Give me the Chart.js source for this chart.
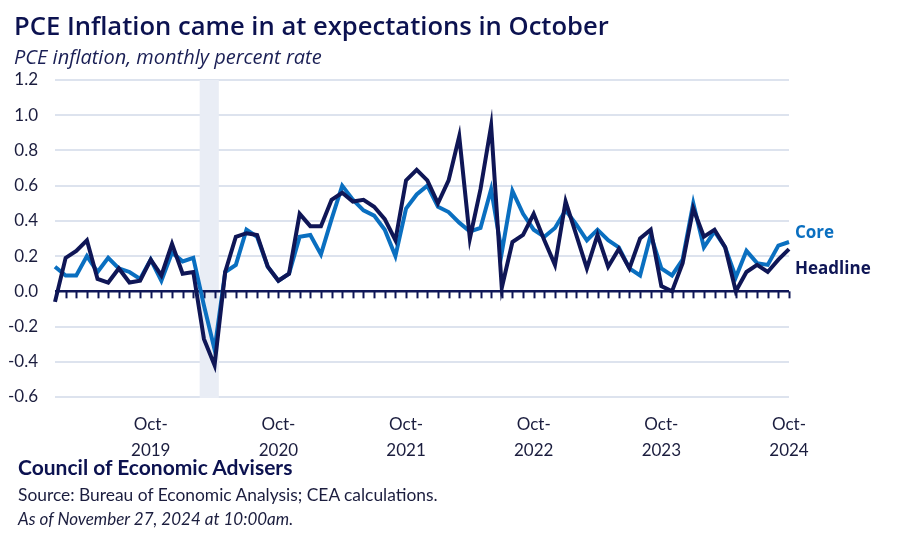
<!DOCTYPE html>
<html>
<head>
<meta charset="utf-8">
<script src="https://cdn.jsdelivr.net/npm/chart.js@4"></script>
<style>
  html, body { margin: 0; padding: 0; background: #fff; }
  #wrap { position: relative; width: 900px; height: 535px; overflow: hidden; }
  #chart { position: absolute; left: 0; top: 0; }
  .txt { position: absolute; white-space: nowrap; color: #0c1250; }
  #title { left: 14px; top: 8px; font: 600 25.6px "Open Sans", sans-serif; }
  #subtitle { left: 14px; top: 43px; font: italic 20px "Open Sans", sans-serif; color: #1a1f55; }
  #org { left: 18px; top: 454px; font: bold 21px "Lato", sans-serif; }
  #source { left: 18px; top: 484px; font: 17.4px "Lato", sans-serif; color: #1b1d3e; }
  #asof { left: 18px; top: 508px; font: italic 17px "Lato", sans-serif; color: #1b1d3e; }
</style>
</head>
<body>
<div id="wrap">
  <canvas id="chart" width="900" height="535"></canvas>
  <div class="txt" id="title">PCE Inflation came in at expectations in October</div>
  <div class="txt" id="subtitle">PCE inflation, monthly percent rate</div>
  <div class="txt" id="org">Council of Economic Advisers</div>
  <div class="txt" id="source">Source: Bureau of Economic Analysis; CEA calculations.</div>
  <div class="txt" id="asof">As of November 27, 2024 at 10:00am.</div>
</div>
<script>
// Meses (jan 2019 - out 2024)
const months = [
  "Jan-2019","Feb-2019","Mar-2019","Apr-2019","May-2019","Jun-2019","Jul-2019","Aug-2019","Sep-2019","Oct-2019","Nov-2019","Dec-2019",
  "Jan-2020","Feb-2020","Mar-2020","Apr-2020","May-2020","Jun-2020","Jul-2020","Aug-2020","Sep-2020","Oct-2020","Nov-2020","Dec-2020",
  "Jan-2021","Feb-2021","Mar-2021","Apr-2021","May-2021","Jun-2021","Jul-2021","Aug-2021","Sep-2021","Oct-2021","Nov-2021","Dec-2021",
  "Jan-2022","Feb-2022","Mar-2022","Apr-2022","May-2022","Jun-2022","Jul-2022","Aug-2022","Sep-2022","Oct-2022","Nov-2022","Dec-2022",
  "Jan-2023","Feb-2023","Mar-2023","Apr-2023","May-2023","Jun-2023","Jul-2023","Aug-2023","Sep-2023","Oct-2023","Nov-2023","Dec-2023",
  "Jan-2024","Feb-2024","Mar-2024","Apr-2024","May-2024","Jun-2024","Jul-2024","Aug-2024","Sep-2024","Oct-2024"
];

// PCE cheio (headline)
const headline = [
  -0.06, 0.19, 0.23, 0.29, 0.07, 0.05, 0.13, 0.05, 0.06, 0.18, 0.09, 0.27,
  0.10, 0.11, -0.27, -0.42, 0.11, 0.31, 0.33, 0.32, 0.14, 0.06, 0.10, 0.44,
  0.37, 0.37, 0.52, 0.56, 0.51, 0.52, 0.48, 0.41, 0.29, 0.63, 0.69, 0.63,
  0.50, 0.63, 0.88, 0.30, 0.58, 0.94, 0.02, 0.28, 0.32, 0.44, 0.29, 0.15,
  0.51, 0.32, 0.13, 0.32, 0.14, 0.24, 0.13, 0.30, 0.35, 0.03, 0.00, 0.16,
  0.47, 0.31, 0.35, 0.25, 0.00, 0.11, 0.15, 0.11, 0.18, 0.24
];

// PCE núcleo (core)
const core = [
  0.14, 0.09, 0.09, 0.20, 0.11, 0.19, 0.13, 0.11, 0.07, 0.18, 0.06, 0.22,
  0.17, 0.19, -0.08, -0.33, 0.11, 0.15, 0.35, 0.31, 0.14, 0.06, 0.10, 0.31,
  0.32, 0.21, 0.41, 0.60, 0.52, 0.46, 0.43, 0.35, 0.20, 0.47, 0.55, 0.60,
  0.48, 0.45, 0.39, 0.34, 0.36, 0.58, 0.22, 0.57, 0.44, 0.35, 0.31, 0.36,
  0.46, 0.38, 0.29, 0.35, 0.29, 0.25, 0.13, 0.09, 0.32, 0.13, 0.09, 0.18,
  0.50, 0.25, 0.34, 0.25, 0.08, 0.23, 0.16, 0.15, 0.26, 0.28
];

// Rótulos do eixo x e do eixo y
const labeledMonths = ["Oct-2019", "Oct-2020", "Oct-2021", "Oct-2022", "Oct-2023", "Oct-2024"];
const yMin = -0.6, yMax = 1.2, yStep = 0.2;

// Período sombreado (recessão)
const recessionMonths = ["Mar-2020", "Apr-2020"];

const seriesNames = ["Headline", "Core"];

const NAVY = "#0f1656";
const BLUE = "#0a6fc0";

// Faixa de recessão
const bandPlugin = {
  id: "band",
  beforeDatasetsDraw(chart) {
    const { ctx, chartArea, scales: { x } } = chart;
    const i0 = months.indexOf(recessionMonths[0]);
    const i1 = months.indexOf(recessionMonths[recessionMonths.length - 1]);
    const left = x.getPixelForValue(i0 - 0.4);
    const right = x.getPixelForValue(i1 + 0.4);
    ctx.save();
    ctx.fillStyle = "#e9edf5";
    ctx.fillRect(left, chartArea.top, right - left, chartArea.bottom - chartArea.top + 1);
    ctx.restore();
  }
};

// Linha do zero com marcas mensais
const zeroAxisPlugin = {
  id: "zeroAxis",
  beforeDatasetsDraw(chart) {
    const { ctx, chartArea, scales: { x, y } } = chart;
    const y0 = y.getPixelForValue(0);
    ctx.save();
    ctx.strokeStyle = NAVY;
    ctx.lineWidth = 2.5;
    ctx.beginPath();
    ctx.moveTo(chartArea.left, y0);
    ctx.lineTo(chartArea.right, y0);
    ctx.stroke();
    ctx.lineWidth = 2;
    for (let i = 1; i < months.length; i++) {
      const px = Math.round(x.getPixelForValue(i)) + 0.5;
      ctx.beginPath();
      ctx.moveTo(px, y0);
      ctx.lineTo(px, y0 + 7);
      ctx.stroke();
    }
    ctx.restore();
  }
};

// Rótulos das séries no fim das linhas
const endLabelPlugin = {
  id: "endLabels",
  afterDatasetsDraw(chart) {
    const { ctx } = chart;
    ctx.save();
    ctx.font = "bold 17px 'Open Sans', sans-serif";
    ctx.textBaseline = "middle";
    chart.data.datasets.forEach((ds, di) => {
      const meta = chart.getDatasetMeta(di);
      const pt = meta.data[meta.data.length - 1];
      const dy = ds.label === "Core" ? -9 : 20;
      ctx.fillStyle = ds.borderColor;
      ctx.fillText(ds.label, pt.x + 6, pt.y + dy);
    });
    ctx.restore();
  }
};

new Chart(document.getElementById("chart"), {
  type: "line",
  data: {
    labels: months,
    datasets: [
      { label: seriesNames[1], data: core, borderColor: BLUE, borderWidth: 4, pointRadius: 0, tension: 0, order: 2 },
      { label: seriesNames[0], data: headline, borderColor: NAVY, borderWidth: 4, pointRadius: 0, tension: 0, order: 1 }
    ]
  },
  options: {
    responsive: false,
    animation: false,
    layout: { padding: { top: 80, right: 111, bottom: 0, left: 0 } },
    plugins: {
      legend: { display: false },
      tooltip: { enabled: false }
    },
    scales: {
      x: {
        offset: false,
        grid: { display: false },
        border: { display: false },
        afterFit(scale) { scale.height = 138; },
        ticks: {
          autoSkip: false,
          maxRotation: 0,
          padding: 6,
          color: "#1b1d3e",
          font: { family: "Lato", size: 17, lineHeight: 1.55 },
          callback(value) {
            const m = months[value];
            if (!labeledMonths.includes(m)) return "";
            const parts = m.split("-");
            return [parts[0] + "-", parts[1]];
          }
        }
      },
      y: {
        min: yMin,
        max: yMax,
        afterFit(scale) { scale.width = 55; },
        grid: { color: "#dde3ee", lineWidth: 2, drawTicks: false },
        border: { display: false },
        ticks: {
          stepSize: yStep,
          padding: 17,
          color: "#1b1d3e",
          font: { family: "Lato", size: 17 },
          callback: v => v.toFixed(1)
        }
      }
    }
  },
  plugins: [bandPlugin, zeroAxisPlugin, endLabelPlugin]
});
</script>
</body>
</html>
